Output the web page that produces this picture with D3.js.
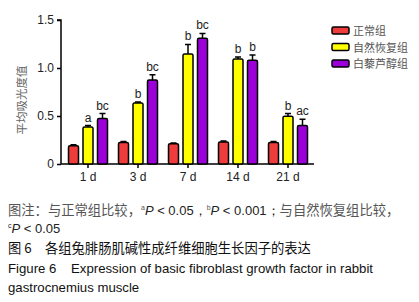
<!DOCTYPE html>
<html>
<head>
<meta charset="utf-8">
<script src="https://cdn.jsdelivr.net/npm/d3@7"></script>
<style>
body { margin: 0; background: #fff; }
text { font-family: "Liberation Sans", Arial, sans-serif; }
</style>
</head>
<body>
<div id="chart"></div>
<script>
var days = ['1 d', '3 d', '7 d', '14 d', '21 d'];
var groups = ['正常组', '自然恢复组', '白藜芦醇组'];
var colors = ['#ee3b3b', '#ffff00', '#9b00d9'];
var normal = [0.19, 0.225, 0.21, 0.23, 0.225];
var natural = [0.385, 0.635, 1.145, 1.095, 0.497];
var resv = [0.475, 0.875, 1.31, 1.08, 0.40];
var normalErr = [0.01, 0.01, 0.01, 0.01, 0.01];
var naturalErr = [0.015, 0.012, 0.1, 0.02, 0.028];
var resvErr = [0.05, 0.055, 0.05, 0.055, 0.065];
var marks = [['', 'a', 'bc'], ['', 'b', 'bc'], ['', 'b', 'bc'], ['', 'b', 'b'], ['', 'b', 'ac']];
var yTicks = [0, 0.5, 1.0, 1.5];

var width = 419, height = 302;
var svg = d3.select('#chart')
	.append('svg')
	.attr('width', width)
	.attr('height', height);

var x_scale = d3.scaleBand()
	.domain(days)
	.range([63, 313]);
var y_scale = d3.scaleLinear()
	.domain([0, 1.5])
	.range([164, 20]);

var series = [normal, natural, resv];
var errs = [normalErr, naturalErr, resvErr];
var offsets = [-14.5, 0, 14.5];
var barW = 10;

// y axis
var y_axis = d3.axisLeft(y_scale)
	.tickValues(yTicks)
	.tickSize(4)
	.tickFormat(function(d){ return d === 0 ? '0' : d.toFixed(1); });
var gy = svg.append('g')
	.attr('transform', 'translate(61,0)')
	.call(y_axis);
gy.select('.domain').attr('stroke', '#000').attr('stroke-width', 1.5).attr('d', 'M-4,20H0V164');
gy.selectAll('.tick line').attr('stroke-width', 1.5);
gy.selectAll('.tick text').attr('font-size', 12).attr('fill', '#222').attr('x', -7);

// x axis
var x_axis = d3.axisBottom(x_scale).tickSize(4).tickSizeOuter(0);
var gx = svg.append('g')
	.attr('transform', 'translate(0,164)')
	.call(x_axis);
gx.select('.domain').attr('stroke-width', 1.5).attr('d', 'M61,0H314');
gx.selectAll('.tick line').attr('stroke-width', 1.5);
gx.selectAll('.tick text').attr('font-size', 12).attr('fill', '#222').attr('dy', '0.85em');

// bars
series.forEach(function(vals, si){
	var g = svg.append('g');
	g.selectAll('rect')
		.data(vals)
		.enter()
		.append('rect')
		.attr('x', function(d, i){ return x_scale(days[i]) + x_scale.bandwidth()/2 + offsets[si] - barW/2; })
		.attr('y', function(d){ return y_scale(d); })
		.attr('width', barW)
		.attr('height', function(d){ return 164 - y_scale(d); })
		.attr('rx', 1.5)
		.attr('fill', colors[si])
		.attr('stroke', '#000')
		.attr('stroke-width', 1.5);
	// error bars
	g.selectAll('path')
		.data(vals)
		.enter()
		.append('path')
		.attr('d', function(d, i){
			var cx = x_scale(days[i]) + x_scale.bandwidth()/2 + offsets[si];
			var top = y_scale(d + errs[si][i]);
			return 'M' + cx + ',' + y_scale(d) + 'V' + top + 'M' + (cx - 3) + ',' + top + 'H' + (cx + 3);
		})
		.attr('stroke', '#000')
		.attr('stroke-width', 1.5)
		.attr('fill', 'none');
	// significance letters
	g.selectAll('text')
		.data(vals)
		.enter()
		.append('text')
		.attr('x', function(d, i){ return x_scale(days[i]) + x_scale.bandwidth()/2 + offsets[si]; })
		.attr('y', function(d, i){ return y_scale(d + errs[si][i]) - 4; })
		.attr('text-anchor', 'middle')
		.attr('font-size', 12)
		.attr('fill', '#222')
		.text(function(d, i){ return marks[i][si]; });
});

// y label
svg.append('text')
	.attr('transform', 'translate(26,100) rotate(-90)')
	.attr('text-anchor', 'middle')
	.attr('font-size', 11.5)
	.attr('fill', '#666')
	.style('font-family', '"Noto Sans CJK SC", sans-serif')
	.text('平均吸光度值');

// legend
var lg = svg.append('g').selectAll('g')
	.data(groups)
	.enter()
	.append('g')
	.attr('transform', function(d, i){ return 'translate(332,' + (27 + i * 16.5) + ')'; });
lg.append('rect')
	.attr('width', 17)
	.attr('height', 7)
	.attr('rx', 1.5)
	.attr('fill', function(d, i){ return colors[i]; })
	.attr('stroke', '#000')
	.attr('stroke-width', 1.5);
lg.append('text')
	.attr('x', 21)
	.attr('y', 8)
	.attr('font-size', 11)
	.attr('fill', '#555')
	.style('font-family', '"Noto Sans CJK SC", sans-serif')
	.text(function(d){ return d; });

// caption
var cjk = '"Noto Sans CJK SC", sans-serif';
var l1 = svg.append('text').attr('x', 8).attr('y', 214.5).attr('font-size', 13).attr('fill', '#555');
l1.append('tspan').style('font-family', cjk).attr('font-size', 13.3).text('图注：与正常组比较，');
l1.append('tspan').attr('font-size', 7).attr('dy', -5).text('a');
l1.append('tspan').attr('dy', 5).attr('font-style', 'italic').attr('fill', '#222').text('P');
l1.append('tspan').attr('fill', '#222').text(' < 0.05，');
l1.append('tspan').attr('font-size', 7).attr('dy', -5).text('b');
l1.append('tspan').attr('dy', 5).attr('font-style', 'italic').attr('fill', '#222').text('P');
l1.append('tspan').attr('fill', '#222').text(' < 0.001；');
l1.append('tspan').style('font-family', cjk).attr('font-size', 13.3).text('与自然恢复组比较，');

var l2 = svg.append('text').attr('x', 8).attr('y', 233).attr('font-size', 13).attr('fill', '#222');
l2.append('tspan').attr('font-size', 7).attr('dy', -5).text('c');
l2.append('tspan').attr('dy', 5).attr('font-style', 'italic').text('P');
l2.append('tspan').text(' < 0.05');

svg.append('text').attr('x', 8).attr('y', 253).attr('font-size', 13.3).attr('fill', '#111')
	.style('font-family', cjk).attr('xml:space', 'preserve')
	.text('图 6　各组兔腓肠肌碱性成纤维细胞生长因子的表达');
svg.append('text').attr('x', 8).attr('y', 273).attr('font-size', 13.2).attr('fill', '#111')
	.attr('xml:space', 'preserve')
	.text('Figure 6    Expression of basic fibroblast growth factor in rabbit');
svg.append('text').attr('x', 8).attr('y', 292).attr('font-size', 13.2).attr('fill', '#111')
	.text('gastrocnemius muscle');
</script>
</body>
</html>
